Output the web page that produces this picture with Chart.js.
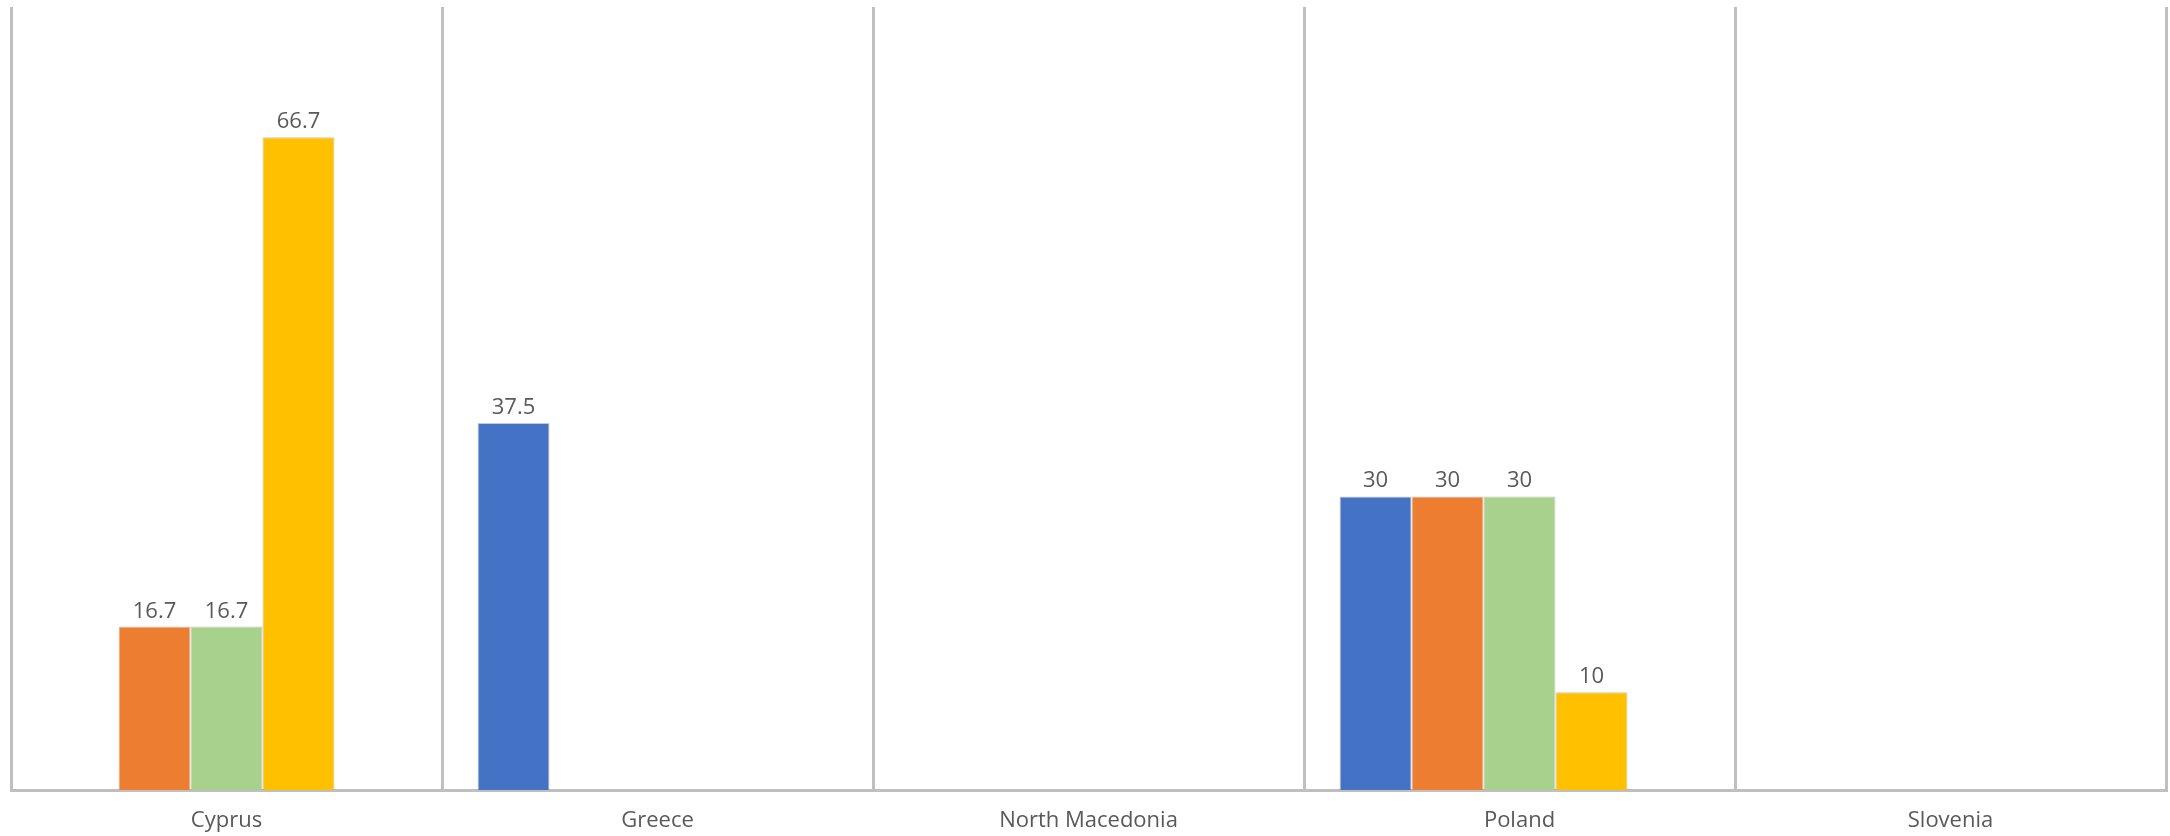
<!DOCTYPE html>
<html>
<head>
<meta charset="utf-8">
<script src="https://cdn.jsdelivr.net/npm/chart.js@4.4.1/dist/chart.umd.min.js"></script>
<style>
  html, body { margin: 0; padding: 0; background: #ffffff; }
  #wrap { width: 2170px; height: 836px; }
</style>
</head>
<body>
<div id="wrap"><canvas id="chart" width="2170" height="836"></canvas></div>
<script>
// Categories and series values
const countries = ['Cyprus', 'Greece', 'North Macedonia', 'Poland', 'Slovenia'];
const seriesBlue   = [null, 37.5, null, 30, null];
const seriesOrange = [16.7, null, null, 30, null];
const seriesGreen  = [16.7, null, null, 30, null];
const seriesYellow = [66.7, null, null, 10, null];
const seriesEmpty  = [null, null, null, null, null];

const yMin = 0;
const yMax = 80;

const fontFamily = '"Open Sans", "Liberation Sans", sans-serif';

// Draws the value above each bar
const valueLabels = {
  id: 'valueLabels',
  afterDatasetsDraw(chart) {
    const ctx = chart.ctx;
    ctx.save();
    ctx.font = '22px ' + fontFamily;
    ctx.fillStyle = '#595959';
    ctx.textAlign = 'center';
    ctx.textBaseline = 'alphabetic';
    chart.data.datasets.forEach((ds, i) => {
      const meta = chart.getDatasetMeta(i);
      meta.data.forEach((bar, j) => {
        const v = ds.data[j];
        if (v == null) return;
        ctx.fillText(String(v), bar.x, bar.y - 9);
      });
    });
    ctx.restore();
  }
};

function makeSet(label, data, color) {
  return {
    label: label,
    data: data,
    backgroundColor: color,
    borderColor: 'rgba(140, 130, 110, 0.45)',
    borderWidth: 1,
    barPercentage: 1.0,
    categoryPercentage: 0.835
  };
}

new Chart(document.getElementById('chart').getContext('2d'), {
  type: 'bar',
  data: {
    labels: countries,
    datasets: [
      makeSet('s1', seriesBlue, '#4472C4'),
      makeSet('s2', seriesOrange, '#ED7D31'),
      makeSet('s3', seriesGreen, '#A9D18E'),
      makeSet('s4', seriesYellow, '#FFC000'),
      makeSet('s5', seriesEmpty, '#A5A5A5')
    ]
  },
  options: {
    responsive: false,
    animation: false,
    layout: { padding: { left: 11, top: 7, right: 4, bottom: 0 } },
    plugins: {
      legend: { display: false },
      tooltip: { enabled: false }
    },
    scales: {
      x: {
        afterFit: scale => { scale.height = 46; },
        grid: {
          offset: true,
          drawTicks: false,
          lineWidth: 3,
          color: ctx => (ctx.index === countries.length ? 'rgba(0,0,0,0)' : '#bfbfbf')
        },
        border: { display: true, color: '#bfbfbf', width: 3 },
        ticks: {
          padding: 18,
          color: '#595959',
          font: { family: fontFamily, size: 22 }
        }
      },
      y: {
        display: false,
        min: yMin,
        max: yMax
      }
    }
  },
  plugins: [valueLabels]
});
</script>
</body>
</html>
